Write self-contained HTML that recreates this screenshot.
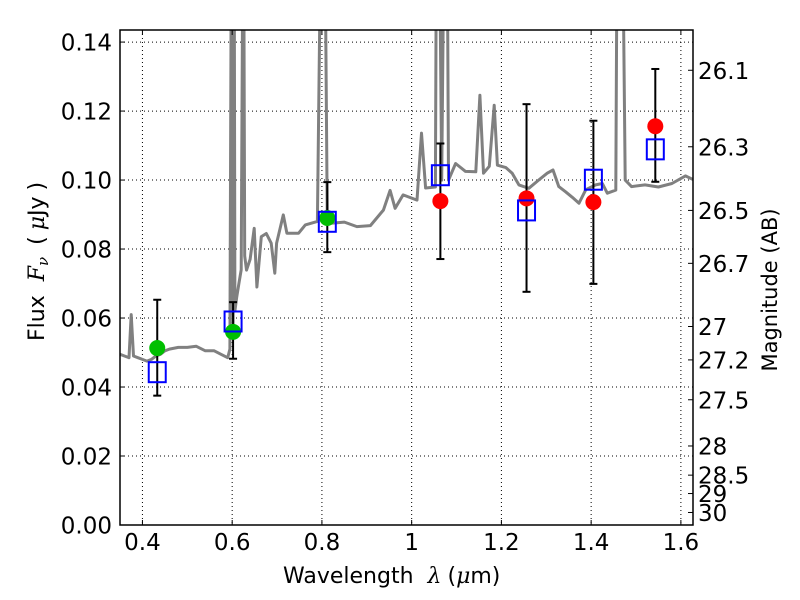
<!DOCTYPE html>
<html><head><meta charset="utf-8"><style>
body{margin:0;background:#fff;}
svg{display:block;font-family:"DejaVu Sans","Liberation Sans",sans-serif;}
</style></head><body>
<svg id="chart" width="800" height="600" viewBox="0 0 800 600" xmlns="http://www.w3.org/2000/svg">
<defs><clipPath id="clip"><rect x="120" y="30" width="573" height="495"/></clipPath></defs>
<rect width="800" height="600" fill="#fff"/>
<g id="grid"></g>
<g id="series" clip-path="url(#clip)"></g>
<g id="axes"></g>
<text transform="translate(44,341) rotate(-90)" font-size="22">Flux<tspan dx="14" font-style="italic" font-family="DejaVu Serif, serif">F</tspan><tspan font-style="italic" font-size="15" dy="4" font-family="DejaVu Serif, serif">ν</tspan><tspan dy="-4" dx="12">(</tspan><tspan dx="6" font-style="italic" font-family="DejaVu Serif, serif">μ</tspan>Jy<tspan dx="6">)</tspan></text>
<text transform="translate(777,290) rotate(-90)" text-anchor="middle" font-size="21">Magnitude (AB)</text>
<text x="283" y="583" font-size="22">Wavelength<tspan dx="14" font-style="italic" font-family="DejaVu Serif, serif">λ</tspan><tspan dx="6">(</tspan><tspan font-style="italic" font-family="DejaVu Serif, serif">μ</tspan>m)</text>
</svg>
<script>
const xTicks=[0.4,0.6,0.8,1.0,1.2,1.4,1.6];
const xTickLabels=["0.4","0.6","0.8","1","1.2","1.4","1.6"];
const yTicks=[0,0.02,0.04,0.06,0.08,0.10,0.12,0.14];
const yTickLabels=["0.00","0.02","0.04","0.06","0.08","0.10","0.12","0.14"];
const magTicks=[26.1,26.3,26.5,26.7,27,27.2,27.5,28,28.5,29,30];
const magTickLabels=["26.1","26.3","26.5","26.7","27","27.2","27.5","28","28.5","29","30"];
const specLam=[0.350,0.360,0.370,0.375,0.380,0.390,0.400,0.410,0.420,0.430,0.440,0.450,0.460,0.480,0.500,0.520,0.540,0.560,0.575,0.590,0.595,0.599,0.602,0.604,0.606,0.610,0.615,0.620,0.625,0.628,0.632,0.640,0.649,0.655,0.665,0.676,0.687,0.695,0.699,0.714,0.722,0.748,0.763,0.790,0.800,0.805,0.812,0.820,0.850,0.878,0.908,0.937,0.952,0.963,0.981,1.012,1.022,1.031,1.053,1.056,1.060,1.067,1.074,1.078,1.082,1.098,1.120,1.143,1.152,1.160,1.173,1.184,1.191,1.210,1.224,1.239,1.261,1.283,1.302,1.315,1.328,1.343,1.358,1.373,1.388,1.410,1.425,1.436,1.455,1.459,1.468,1.476,1.490,1.520,1.550,1.580,1.610,1.630];
const specFlux=[0.0495,0.049,0.0485,0.061,0.049,0.0485,0.048,0.0475,0.048,0.049,0.0495,0.0505,0.051,0.0515,0.0515,0.0518,0.0505,0.0505,0.0495,0.0485,0.051,0.2,0.058,0.2,0.062,0.066,0.07,0.074,0.2,0.078,0.0739,0.077,0.086,0.069,0.0836,0.0845,0.0817,0.073,0.0817,0.0899,0.0846,0.0846,0.087,0.088,0.2,0.2,0.0875,0.0875,0.0878,0.0865,0.0868,0.0913,0.097,0.0918,0.0957,0.0942,0.1136,0.0977,0.098,0.2,0.2,0.1,0.2,0.2,0.1,0.1048,0.1025,0.1024,0.1246,0.102,0.104,0.1217,0.1043,0.1036,0.102,0.0986,0.0976,0.1,0.102,0.1029,0.0981,0.0966,0.095,0.0933,0.0972,0.0986,0.099,0.0962,0.0971,0.2,0.2,0.1,0.0981,0.0986,0.098,0.099,0.1012,0.1];
const photLam=[0.433,0.602,0.812,1.064,1.256,1.405,1.543];
const photFlux=[0.0513,0.056,0.089,0.0939,0.0947,0.0936,0.1156];
const photErrHi=[0.0653,0.0646,0.0994,0.1106,0.122,0.1172,0.1322];
const photErrLo=[0.0375,0.0482,0.0791,0.0771,0.0676,0.0699,0.0995];
const photColor=["green","green","green","red","red","red","red"];
const modelFlux=[0.0443,0.059,0.0879,0.1014,0.0912,0.1001,0.1089];

const X0=120,X1=693,Y0=525,Y1=30,xmin=0.35,xmax=1.627,ymin=0,ymax=0.1435;
const sx=v=>X0+(v-xmin)/(xmax-xmin)*(X1-X0);
const sy=v=>Y0-(v-ymin)/(ymax-ymin)*(Y0-Y1);
const magToFlux=m=>Math.pow(10,(23.9-m)/2.5);
const NS="http://www.w3.org/2000/svg";
function mk(tag,attrs,parent){const e=document.createElementNS(NS,tag);for(const k in attrs)e.setAttribute(k,attrs[k]);parent.appendChild(e);return e;}
const grid=document.getElementById('grid'),ser=document.getElementById('series'),ax=document.getElementById('axes');

xTicks.forEach((t,i)=>{const x=sx(t);
 let g=mk('line',{x1:x,x2:x,y1:Y1,y2:Y0,stroke:'#000','stroke-width':1,'stroke-dasharray':'1,3'},grid);
 
 
 mk('line',{x1:x,x2:x,y1:Y0,y2:Y0-5,stroke:'#000'},ax);
 mk('line',{x1:x,x2:x,y1:Y1,y2:Y1+5,stroke:'#000'},ax);
 let l=mk('text',{x:x,y:550,'text-anchor':'middle','font-size':23},ax);l.textContent=xTickLabels[i];
 
 
});
yTicks.forEach((t,i)=>{const y=sy(t);
 if(t>0){let g=mk('line',{x1:X0,x2:X1,y1:y,y2:y,stroke:'#000','stroke-width':1,'stroke-dasharray':'1,3'},grid);
 
 }
 mk('line',{x1:X0,x2:X0+5,y1:y,y2:y,stroke:'#000'},ax);
 let l=mk('text',{x:112,y:y+8.5,'text-anchor':'end','font-size':23},ax);l.textContent=yTickLabels[i];
 
 
});
magTicks.forEach((m,i)=>{const y=sy(magToFlux(m));
 mk('line',{x1:X1,x2:X1-5,y1:y,y2:y,stroke:'#000'},ax);
 let l=mk('text',{x:698,y:y+8.5,'font-size':23},ax);l.textContent=magTickLabels[i];
 
 
});
let d=specLam.map((l,i)=>(i?'L':'M')+sx(l).toFixed(1)+','+sy(specFlux[i]).toFixed(1)).join(' ');
let sp=mk('path',{d:d,fill:'none',stroke:'#808080','stroke-width':3,'stroke-linejoin':'round'},ser);


photLam.forEach((l,i)=>{const x=sx(l);
 let e=mk('g',{stroke:'#000','stroke-width':2},ser);
 
 
 mk('line',{x1:x,x2:x,y1:sy(photErrHi[i]),y2:sy(photErrLo[i])},e);
 mk('line',{x1:x-4,x2:x+4,y1:sy(photErrHi[i]),y2:sy(photErrHi[i])},e);
 mk('line',{x1:x-4,x2:x+4,y1:sy(photErrLo[i]),y2:sy(photErrLo[i])},e);
});
photLam.forEach((l,i)=>{
 let c=mk('circle',{cx:sx(l),cy:sy(photFlux[i]),r:8,fill:photColor[i]=='green'?'#00bf00':'#ff0000'},ser);
 
 
});
photLam.forEach((l,i)=>{
 let s=mk('rect',{x:sx(l)-8.5,y:sy(modelFlux[i])-10,width:17,height:20,fill:'none',stroke:'#0000ff','stroke-width':2},ser);
 
 
});
let fr=mk('rect',{x:X0,y:Y1,width:X1-X0,height:Y0-Y1,fill:'none',stroke:'#000','stroke-width':1.5},ax);


</script>
</body></html>
